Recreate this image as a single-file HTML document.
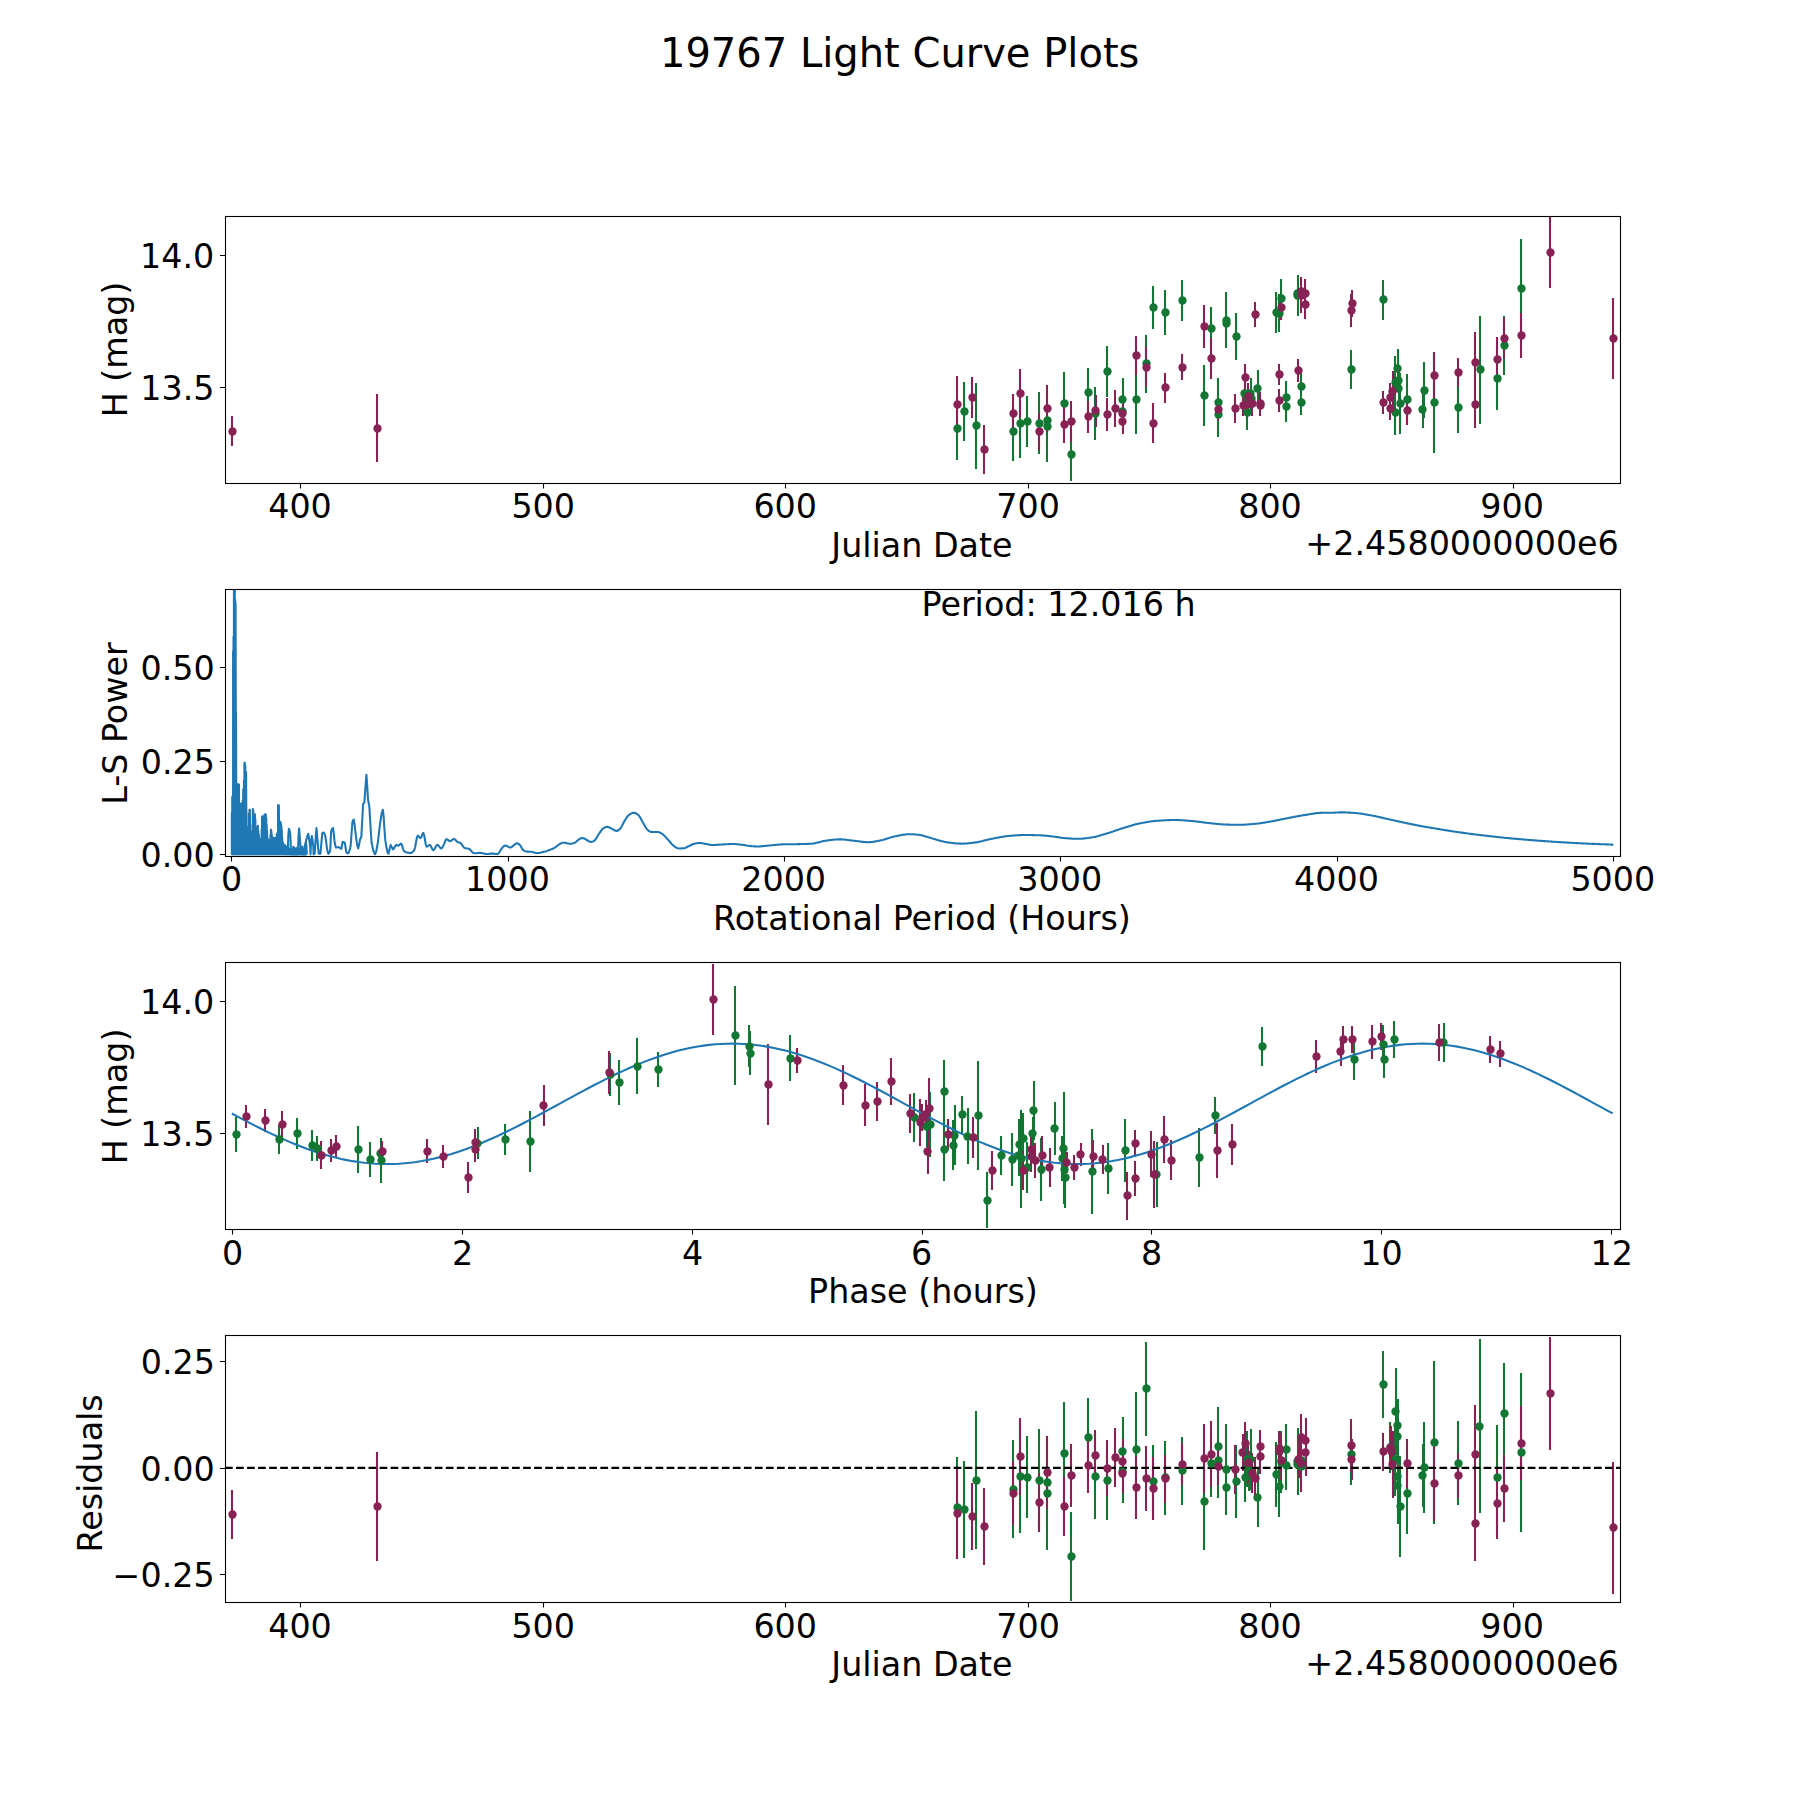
<!DOCTYPE html>
<html lang="en"><head><meta charset="utf-8"><title>19767 Light Curve Plots</title>
<style>html,body{margin:0;padding:0;background:#fff}body{width:1800px;height:1800px;overflow:hidden}svg{display:block}</style>
</head><body>
<svg xmlns="http://www.w3.org/2000/svg" width="1800" height="1800" viewBox="0 0 1800 1800">
<rect width="1800" height="1800" fill="#fff"/>
<defs>
<clipPath id="c0"><rect x="225" y="216" width="1395" height="266.54"/></clipPath>
<clipPath id="c1"><rect x="225" y="589.15" width="1395" height="266.54"/></clipPath>
<clipPath id="c2"><rect x="225" y="962.31" width="1395" height="266.54"/></clipPath>
<clipPath id="c3"><rect x="225" y="1335.46" width="1395" height="266.54"/></clipPath>
</defs>
<text x="899.7" y="67" text-anchor="middle" font-family='"DejaVu Sans", "Liberation Sans", sans-serif' font-size="40" fill="#000">19767 Light Curve Plots</text>
<g clip-path="url(#c0)">
<path d="M957 397V460M964 382V441M976 383V469M1013 403V461M1020 389V458M1027 396V447M1039 392V454M1047 393V448M1047 392V462M1064 372V435M1071 428V481M1088 368V417M1095 387V440M1107 346V397M1123 378V420M1123 391V431M1136 365V434M1146 335V393M1153 286V329M1165 290V335M1182 280V321M1204 365V426M1211 307V350M1218 378V427M1218 393V437M1226 292V348M1226 298V348M1236 313V360M1245 381V405M1251 378V408M1247 394V430M1251 387V411M1258 370V407M1276 292V333M1279 294V332M1281 279V318M1298 275V316M1298 276V310M1286 381V413M1286 391V422M1301 372V400M1301 390V415M1351 350V389M1383 280V320M1395 390V435M1395 356V410M1398 349V388M1399 365V395M1399 373V403M1400 373V434M1407 374V424M1424 362V418M1423 391V428M1434 353V453M1458 382V433M1480 316V424M1497 347V410M1504 316V375M1521 239V338" stroke="#117733" stroke-width="2.08" fill="none"/>
<path d="M232 416V446M377 394V462M957 376V433M972 377V418M984 425V474M1013 394V433M1020 369V418M1039 413V450M1047 385V432M1064 406V443M1071 401V442M1088 401V433M1096 395V427M1107 398V431M1115 390V427M1123 399V427M1123 409V434M1136 336V375M1146 347V387M1153 403V443M1165 373V403M1182 354V380M1204 305V348M1211 338V379M1218 398V421M1235 394V423M1245 364V391M1248 383V409M1243 395V416M1252 392V416M1248 394V414M1260 392V414M1260 395V416M1255 302V327M1281 295V320M1301 277V313M1301 278V304M1305 279V308M1305 290V319M1352 290V317M1351 294V327M1279 364V385M1279 389V412M1298 359V382M1383 391V414M1390 383V413M1393 371V411M1390 397V420M1407 396V425M1434 352V399M1458 358V387M1475 332V393M1475 381V428M1497 337V382M1504 318V359M1521 313V358M1550 217V288M1613 298V379" stroke="#882255" stroke-width="2.08" fill="none"/>
<g fill="#117733">
<circle cx="957.5" cy="428.5" r="4.17"/>
<circle cx="964.5" cy="411.5" r="4.17"/>
<circle cx="976.5" cy="425.5" r="4.17"/>
<circle cx="1013.5" cy="431.5" r="4.17"/>
<circle cx="1020.5" cy="423.5" r="4.17"/>
<circle cx="1027.5" cy="421.5" r="4.17"/>
<circle cx="1039.5" cy="423.5" r="4.17"/>
<circle cx="1047.5" cy="420.5" r="4.17"/>
<circle cx="1047.5" cy="426.5" r="4.17"/>
<circle cx="1064.5" cy="403.5" r="4.17"/>
<circle cx="1071.5" cy="454.5" r="4.17"/>
<circle cx="1088.5" cy="392.5" r="4.17"/>
<circle cx="1095.5" cy="413.5" r="4.17"/>
<circle cx="1107.5" cy="371.5" r="4.17"/>
<circle cx="1122.5" cy="399.5" r="4.17"/>
<circle cx="1122.5" cy="411.5" r="4.17"/>
<circle cx="1136.5" cy="399.5" r="4.17"/>
<circle cx="1146.5" cy="363.5" r="4.17"/>
<circle cx="1153.5" cy="307.5" r="4.17"/>
<circle cx="1165.5" cy="312.5" r="4.17"/>
<circle cx="1182.5" cy="300.5" r="4.17"/>
<circle cx="1204.5" cy="395.5" r="4.17"/>
<circle cx="1211.5" cy="328.5" r="4.17"/>
<circle cx="1218.5" cy="402.5" r="4.17"/>
<circle cx="1218.5" cy="414.5" r="4.17"/>
<circle cx="1226.5" cy="320.5" r="4.17"/>
<circle cx="1226.5" cy="323.5" r="4.17"/>
<circle cx="1236.5" cy="336.5" r="4.17"/>
<circle cx="1244.5" cy="393.5" r="4.17"/>
<circle cx="1250.5" cy="393.5" r="4.17"/>
<circle cx="1247.5" cy="412.5" r="4.17"/>
<circle cx="1251.5" cy="398.5" r="4.17"/>
<circle cx="1257.5" cy="388.5" r="4.17"/>
<circle cx="1276.5" cy="312.5" r="4.17"/>
<circle cx="1279.5" cy="313.5" r="4.17"/>
<circle cx="1281.5" cy="298.5" r="4.17"/>
<circle cx="1297.5" cy="295.5" r="4.17"/>
<circle cx="1297.5" cy="293.5" r="4.17"/>
<circle cx="1286.5" cy="397.5" r="4.17"/>
<circle cx="1286.5" cy="406.5" r="4.17"/>
<circle cx="1301.5" cy="386.5" r="4.17"/>
<circle cx="1301.5" cy="402.5" r="4.17"/>
<circle cx="1351.5" cy="369.5" r="4.17"/>
<circle cx="1383.5" cy="299.5" r="4.17"/>
<circle cx="1395.5" cy="412.5" r="4.17"/>
<circle cx="1395.5" cy="382.5" r="4.17"/>
<circle cx="1397.5" cy="368.5" r="4.17"/>
<circle cx="1398.5" cy="380.5" r="4.17"/>
<circle cx="1398.5" cy="388.5" r="4.17"/>
<circle cx="1400.5" cy="403.5" r="4.17"/>
<circle cx="1407.5" cy="399.5" r="4.17"/>
<circle cx="1424.5" cy="390.5" r="4.17"/>
<circle cx="1422.5" cy="409.5" r="4.17"/>
<circle cx="1434.5" cy="402.5" r="4.17"/>
<circle cx="1458.5" cy="407.5" r="4.17"/>
<circle cx="1480.5" cy="369.5" r="4.17"/>
<circle cx="1497.5" cy="378.5" r="4.17"/>
<circle cx="1504.5" cy="345.5" r="4.17"/>
<circle cx="1521.5" cy="288.5" r="4.17"/>
</g>
<g fill="#882255">
<circle cx="232.5" cy="431.5" r="4.17"/>
<circle cx="377.5" cy="428.5" r="4.17"/>
<circle cx="957.5" cy="404.5" r="4.17"/>
<circle cx="972.5" cy="397.5" r="4.17"/>
<circle cx="984.5" cy="449.5" r="4.17"/>
<circle cx="1013.5" cy="413.5" r="4.17"/>
<circle cx="1020.5" cy="393.5" r="4.17"/>
<circle cx="1039.5" cy="431.5" r="4.17"/>
<circle cx="1047.5" cy="408.5" r="4.17"/>
<circle cx="1064.5" cy="424.5" r="4.17"/>
<circle cx="1071.5" cy="421.5" r="4.17"/>
<circle cx="1088.5" cy="416.5" r="4.17"/>
<circle cx="1095.5" cy="410.5" r="4.17"/>
<circle cx="1107.5" cy="414.5" r="4.17"/>
<circle cx="1115.5" cy="408.5" r="4.17"/>
<circle cx="1122.5" cy="413.5" r="4.17"/>
<circle cx="1122.5" cy="421.5" r="4.17"/>
<circle cx="1136.5" cy="355.5" r="4.17"/>
<circle cx="1146.5" cy="367.5" r="4.17"/>
<circle cx="1153.5" cy="423.5" r="4.17"/>
<circle cx="1165.5" cy="387.5" r="4.17"/>
<circle cx="1182.5" cy="367.5" r="4.17"/>
<circle cx="1204.5" cy="326.5" r="4.17"/>
<circle cx="1211.5" cy="358.5" r="4.17"/>
<circle cx="1218.5" cy="409.5" r="4.17"/>
<circle cx="1235.5" cy="408.5" r="4.17"/>
<circle cx="1245.5" cy="377.5" r="4.17"/>
<circle cx="1248.5" cy="396.5" r="4.17"/>
<circle cx="1243.5" cy="405.5" r="4.17"/>
<circle cx="1252.5" cy="403.5" r="4.17"/>
<circle cx="1247.5" cy="404.5" r="4.17"/>
<circle cx="1260.5" cy="403.5" r="4.17"/>
<circle cx="1260.5" cy="405.5" r="4.17"/>
<circle cx="1255.5" cy="314.5" r="4.17"/>
<circle cx="1281.5" cy="307.5" r="4.17"/>
<circle cx="1301.5" cy="295.5" r="4.17"/>
<circle cx="1301.5" cy="291.5" r="4.17"/>
<circle cx="1305.5" cy="293.5" r="4.17"/>
<circle cx="1305.5" cy="304.5" r="4.17"/>
<circle cx="1352.5" cy="303.5" r="4.17"/>
<circle cx="1351.5" cy="310.5" r="4.17"/>
<circle cx="1279.5" cy="374.5" r="4.17"/>
<circle cx="1279.5" cy="400.5" r="4.17"/>
<circle cx="1298.5" cy="370.5" r="4.17"/>
<circle cx="1383.5" cy="402.5" r="4.17"/>
<circle cx="1390.5" cy="397.5" r="4.17"/>
<circle cx="1392.5" cy="391.5" r="4.17"/>
<circle cx="1390.5" cy="408.5" r="4.17"/>
<circle cx="1407.5" cy="410.5" r="4.17"/>
<circle cx="1434.5" cy="375.5" r="4.17"/>
<circle cx="1458.5" cy="372.5" r="4.17"/>
<circle cx="1475.5" cy="362.5" r="4.17"/>
<circle cx="1475.5" cy="404.5" r="4.17"/>
<circle cx="1497.5" cy="359.5" r="4.17"/>
<circle cx="1504.5" cy="338.5" r="4.17"/>
<circle cx="1521.5" cy="335.5" r="4.17"/>
<circle cx="1550.5" cy="252.5" r="4.17"/>
<circle cx="1613.5" cy="338.5" r="4.17"/>
</g>
</g>
<rect x="225.5" y="216.5" width="1395" height="267" fill="none" stroke="#000" stroke-width="1.1"/>
<path d="M300.5 483v5.4M543.5 483v5.4M785.5 483v5.4M1028.5 483v5.4M1270.5 483v5.4M1513.5 483v5.4M225.5 387.5h-5.5M225.5 255.5h-5.5" stroke="#000" stroke-width="1.1" fill="none"/>
<g font-family='"DejaVu Sans", "Liberation Sans", sans-serif' font-size="33.33" fill="#000">
<text x="300.02" y="518" text-anchor="middle">400</text>
<text x="543.21" y="518" text-anchor="middle">500</text>
<text x="785.21" y="518" text-anchor="middle">600</text>
<text x="1028.09" y="518" text-anchor="middle">700</text>
<text x="1269.99" y="518" text-anchor="middle">800</text>
<text x="1512.13" y="518" text-anchor="middle">900</text>
<text x="214.47" y="400" text-anchor="end">13.5</text>
<text x="214.22" y="268" text-anchor="end">14.0</text>
</g>
<text x="921.99" y="557" text-anchor="middle" font-family='"DejaVu Sans", "Liberation Sans", sans-serif' font-size="33.33" fill="#000">Julian Date</text>
<text x="1618.82" y="555" text-anchor="end" font-family='"DejaVu Sans", "Liberation Sans", sans-serif' font-size="33.33" fill="#000">+2.4580000000e6</text>
<text x="126.76" y="349.47" text-anchor="middle" font-family='"DejaVu Sans", "Liberation Sans", sans-serif' font-size="33.33" fill="#000" transform="rotate(-90 126.76 349.47)">H (mag)</text>
<g clip-path="url(#c1)">
<path d="M287 854.4 287.45 848.89 287.9 854.4 288.35 851.48 288.8 854.4 289.25 848.83 289.7 854.4 290.15 851.67 290.6 854.4 291.05 849.95 291.5 854.4 291.95 850.45 292.4 854.4 292.85 851.06 293.3 854.4 293.75 850.07 294.2 854.4 294.65 849.19 295.1 854.4 295.55 848.75 296 854.4 296.45 848.32 296.9 854.4 297.35 850.95 297.8 854.4 298.25 849.77 298.7 854.4 299.15 848.63 299.6 854.4 300.05 851.52 300.5 854.4 300.95 849.1 301.4 854.4 301.85 849.66 302.3 854.4 302.75 849.18 303.2 854.4 303.65 850.52 304.1 854.4 304.55 846 305 854.4 305.45 844.42 305.9 854.4 306.35 844.64 306.8 854.4" stroke="#1f77b4" stroke-width="2.08" fill="none" stroke-linejoin="round" stroke-linecap="butt"/>
<path d="M231.4 854.4 231.4 854.4 231.82 854.4 231.82 813 232.24 854.4 232.24 796.85 232.66 854.4 232.66 796.66 233.08 854.4 233.08 651.37 233.5 854.4 233.5 637 233.92 854.4 233.92 587 234.34 854.4 234.34 587 234.76 854.4 234.76 587 235.18 854.4 235.18 599.8 235.6 854.4 235.6 603 236.02 854.4 236.02 711.96 236.44 854.4 236.44 784.6 236.86 854.4 236.86 784.6 237.28 854.4 237.28 784.6 237.7 854.4 237.7 784.6 238.12 854.4 238.12 784.6 238.54 854.4 238.54 784.6 238.96 854.4 238.96 784.6 239.38 854.4 239.38 804 239.8 854.4 239.8 804 240.22 854.4 240.22 804 240.64 854.4 240.64 804 241.06 854.4 241.06 804 241.48 854.4 241.48 803.6 241.9 854.4 241.9 803 242.32 854.4 242.32 803 242.74 854.4 242.74 800.24 243.16 854.4 243.16 789.2 243.58 854.4 243.58 789.2 244 854.4 244 780.4 244.42 854.4 244.42 762.8 244.84 854.4 244.84 762.8 245.26 854.4 245.26 765.56 245.68 854.4 245.68 772 246.1 854.4 246.1 772 246.52 854.4 246.52 812.33 246.94 854.4 246.94 827 247.36 854.4 247.36 827 247.78 854.4 247.78 827 248.2 854.4 248.2 827 248.62 854.4 248.62 827 249.04 854.4 249.04 813.24 249.46 854.4 249.46 809.8 249.88 854.4 249.88 809.8 250.3 854.4 250.3 824.6 250.72 854.4 250.72 832 251.14 854.4 251.14 832 251.56 854.4 251.56 832 251.98 854.4 251.98 832 252.4 854.4 252.4 832 252.82 854.4 252.82 809 253.24 854.4 253.24 810.06 253.66 854.4 253.66 814.3 254.08 854.4 254.08 814.3 254.5 854.4 254.5 814.3 254.92 854.4 254.92 814.3 255.34 854.4 255.34 818.99 255.76 854.4 255.76 827.7 256.18 854.4 256.18 827.7 256.6 854.4 256.6 827.7 257.02 854.4 257.02 827.7 257.44 854.4 257.44 827.7 257.86 854.4 257.86 825.67 258.28 854.4 258.28 830.83 258.7 854.4 258.7 834.01 259.12 854.4 259.12 836.4 259.54 854.4 259.54 838.79 259.96 854.4 259.96 839.7 260.38 854.4 260.38 839.7 260.8 854.4 260.8 839.7 261.22 854.4 261.22 839.7 261.64 854.4 261.64 828.87 262.06 854.4 262.06 816.5 262.48 854.4 262.48 816.5 262.9 854.4 262.9 816.5 263.32 854.4 263.32 816.5 263.74 854.4 263.74 816.5 264.16 854.4 264.16 816.1 264.58 854.4 264.58 814.5 265 854.4 265 814.5 265.42 854.4 265.42 814.5 265.84 854.4 265.84 814.5 266.26 854.4 266.26 818.51 266.68 854.4 266.68 824.99 267.1 854.4 267.1 831.3 267.52 854.4 267.52 837.6 267.94 854.4 267.94 840.3 268.36 854.4 268.36 840.3 268.78 854.4 268.78 840.3 269.2 854.4 269.2 840.3 269.62 854.4 269.62 840.3 270.04 854.4 270.04 840.3 270.46 854.4 270.46 835.35 270.88 854.4 270.88 829.58 271.3 854.4 271.3 830.84 271.72 854.4 271.72 834.07 272.14 854.4 272.14 837.03 272.56 854.4 272.56 837.3 272.98 854.4 272.98 837.57 273.4 854.4 273.4 837.84 273.82 854.4 273.82 838.12 274.24 854.4 274.24 838.3 274.66 854.4 274.66 838.3 275.08 854.4 275.08 838.3 275.5 854.4 275.5 838.3 275.92 854.4 275.92 838.3 276.34 854.4 276.34 837.3 276.76 854.4 276.76 834.3 277.18 854.4 277.18 833.3 277.6 854.4 277.6 833.3 278.02 854.4 278.02 805.2 278.44 854.4 278.44 805.2 278.86 854.4 278.86 805.2 279.28 854.4 279.28 820.88 279.7 854.4 279.7 822 280.12 854.4 280.12 822 280.54 854.4 280.54 822 280.96 854.4 280.96 823.64 281.38 854.4 281.38 826.28 281.8 854.4 281.8 830.11 282.22 854.4 282.22 837.73 282.64 854.4 282.64 841.72 283.06 854.4 283.06 842.98 283.48 854.4 283.48 844.07 283.9 854.4 283.9 844.43 284.32 854.4 284.32 844.78 284.74 854.4 284.74 845.14 285.16 854.4 285.16 845.5 285.58 854.4 285.58 845.86 286 854.4 286 846.21 286.42 854.4 286.42 847.97 286.84 854.4 286.84 850.16 287.26 854.4 287.26 851 287.68 854.4 287.56 851.11 287.86 854.4 288.22 837.22 288.89 828.89 289.56 830.16 290.22 833.33 290.67 842.86 290.97 854.4 291.11 851.11 291.41 854.4 292.22 848.89 292.52 854.4 293.33 846.67 293.63 854.4 294.37 847.82 294.67 854.4 295.41 849.96 295.71 854.4 296.44 851.11 296.74 854.4 297.11 849.78 297.41 854.4 297.78 846.67 298.08 854.4 298.44 836.66 299.11 828.44 300 839.78 300.89 851.11 301.19 854.4 301.56 848.89 301.86 854.4 302.22 846.67 302.52 854.4 302.89 849.78 303.19 854.4 303.56 852.89 303.86 854.4 304.44 848.92 304.74 854.4 305.33 843.11 305.63 854.4 306 840.73 306.67 838.67 307.47 835.58 308.27 833.78 309.24 840.22 310.22 846.67 310.52 854.4 311.02 841.33 311.82 836 312.58 840.19 313.33 846.67 313.63 854.4 314 851.23 314.67 853.78 315.56 840.89 316.44 828 317.56 840.89 318.67 853.78 319.56 853.78 320.44 853.78 321.33 843.84 322.22 833.33 322.89 832.68 323.56 832.44 324.44 833.52 325.33 836 326.22 842.34 327.11 849.33 327.78 852.32 328.44 853.78 329.33 852.81 330.22 850.22 330.67 840.85 331.11 831.56 332.09 828.96 333.07 828 333.73 833.22 334.4 840.44 335.2 845.2 336 847.56 336.89 847.44 337.78 847.23 338.67 847.11 339.56 847.57 340.44 848.43 341.33 848.89 342 845.33 342.67 841.78 343.78 842.14 344.89 843.11 345.56 847.51 346.22 852 347.11 852.97 348 853.33 348.89 852.3 349.78 849.59 350.67 845.78 351.56 833.4 352.44 821.78 353.11 820.17 353.78 819.56 354.67 824.99 355.56 833.33 356.44 839.84 357.33 845.82 358.22 848.44 359.11 844.63 360 839.56 360.67 838.35 361.33 836.89 362.22 820.2 363.11 804 363.78 803.1 364.44 802.22 365.42 787.85 366.4 774.67 367.2 785.52 368 799.56 368.67 803.1 369.33 806.67 370.44 825.12 371.56 842.22 372.44 846.88 373.33 850.7 374.22 853.28 375.11 854.22 376.22 851.43 377.33 845.78 378.22 839.45 379.11 831.43 380 824.44 380.95 818 381.9 812.26 382.84 809.78 383.67 816.56 384.5 830.15 385.33 840.44 386.37 846.83 387.41 851.79 388.44 853.78 389.56 849.33 390.67 844.89 391.78 847.11 392.89 849.33 393.78 848.64 394.67 847.11 395.56 845.58 396.44 844.89 397.33 845.33 398.22 845.78 399.17 845.2 400.12 844.13 401.07 843.56 402.04 845.35 403.02 848.83 404 851.11 405.04 851.75 406.07 852.18 407.11 852.44 408 852.61 408.89 852.75 409.78 852.85 410.67 852.89 411.56 852.68 412.44 852.12 413.33 851.27 414.22 850.22 415.11 847.3 416 842.32 416.89 837.64 417.78 835.56 418.67 836.25 419.56 837.53 420.44 838.22 421.39 836.84 422.34 834.27 423.29 832.89 424.13 835.04 424.98 839.78 425.82 844.51 426.67 846.67 427.7 846.21 428.74 845.35 429.78 844.89 430.67 845.72 431.56 847.56 432.44 849.39 433.33 850.22 434.13 849.67 434.93 848.34 435.73 846.77 436.53 845.44 437.33 844.89 438.14 845.26 438.95 846.14 439.76 847.19 440.57 848.07 441.38 848.44 442.36 847.52 443.33 845.78 444.37 843.28 445.41 840.46 446.44 839.11 447.33 839.43 448.22 840.13 449.11 840.84 450 841.16 450.8 840.92 451.6 840.37 452.4 839.72 453.2 839.16 454 838.93 454.89 839.33 455.78 840.23 456.67 841.24 457.56 841.96 458.44 842.27 459.33 842.5 460.22 842.84 461.11 843.63 462 844.86 462.89 846.21 463.78 847.36 464.67 848 465.47 848.19 466.27 848.32 467.07 848.41 467.87 848.53 468.67 848.71 469.49 849.14 470.32 849.87 471.14 850.77 471.97 851.69 472.79 852.51 473.62 853.11 474.44 853.33 475.27 853.31 476.1 853.25 476.92 853.16 477.75 853.06 478.57 852.98 479.4 852.91 480.22 852.89 481.06 852.94 481.89 853.07 482.72 853.25 483.56 853.47 484.39 853.68 485.22 853.86 486.06 853.99 486.89 854.04 487.78 854.01 488.67 853.93 489.56 853.82 490.44 853.72 491.33 853.63 492.22 853.6 493.11 853.63 494 853.72 494.89 853.82 495.78 853.93 496.67 854.01 497.56 854.04 498.44 853.52 499.33 852.24 500.22 850.69 501.11 849.33 502 848.15 502.89 847.02 503.78 846.22 504.67 845.73 505.56 845.51 506.37 845.66 507.19 846.04 508 846.53 508.81 847.03 509.63 847.4 510.44 847.56 511.48 847.13 512.52 846.2 513.56 845.33 514.44 844.7 515.33 844.03 516.22 843.5 517.11 843.29 518 843.53 518.89 844.14 519.78 844.89 520.67 846.04 521.56 847.64 522.44 849.2 523.33 850.22 524.37 850.85 525.41 851.32 526.44 851.56 527.26 851.62 528.07 851.66 528.89 851.7 529.7 851.73 530.52 851.76 531.33 851.82 532.22 851.95 533.11 852.15 534 852.39 534.89 852.63 535.78 852.85 536.67 853.01 537.56 853.07 538.44 853.03 539.33 852.91 540.22 852.74 541.11 852.53 542 852.3 542.89 852.06 543.78 851.82 544.59 851.61 545.39 851.38 546.2 851.14 547.01 850.88 547.82 850.61 548.63 850.32 549.43 850.03 550.24 849.71 551.05 849.39 551.86 849.06 552.67 848.71 553.56 848.28 554.44 847.78 555.33 847.24 556.22 846.67 557.11 846.01 558 845.27 558.89 844.56 559.78 844 560.67 843.54 561.56 843.11 562.44 842.79 563.33 842.67 564.22 842.71 565.11 842.83 566 843 566.89 843.2 567.78 843.4 568.67 843.57 569.56 843.69 570.44 843.73 571.33 843.68 572.22 843.55 573.11 843.35 574 843.11 574.89 842.67 575.78 841.95 576.67 841.15 577.56 840.44 578.44 839.78 579.33 839.08 580.22 838.52 581.11 838.22 581.94 838.14 582.78 838.11 583.72 838.29 584.67 838.67 585.67 839.31 586.67 840 587.56 840.49 588.44 841 589.33 841.45 590.22 841.77 591.11 841.89 591.94 841.78 592.78 841.49 593.61 841.06 594.44 840.56 595.33 839.7 596.22 838.39 597.11 836.84 598 835.27 598.89 833.89 599.78 832.62 600.67 831.3 601.56 830.07 602.44 829.04 603.33 828.33 604.31 827.79 605.28 827.33 606.25 827.01 607.22 826.89 608.11 827.01 609 827.34 609.89 827.77 610.78 828.24 611.67 828.67 612.5 829.07 613.33 829.55 614.17 830.04 615 830.47 615.83 830.77 616.67 830.89 617.5 830.72 618.33 830.26 619.17 829.62 620 828.89 620.89 827.79 621.78 826.24 622.67 824.45 623.56 822.67 624.44 821.11 625.33 819.7 626.22 818.26 627.11 816.92 628 815.8 628.89 815 629.72 814.45 630.56 813.93 631.39 813.47 632.22 813.11 633.06 812.86 633.89 812.78 634.78 812.9 635.67 813.23 636.56 813.73 637.44 814.33 638.33 815 639.22 815.96 640.11 817.34 641 818.97 641.89 820.66 642.78 822.22 643.67 823.77 644.56 825.42 645.44 827.02 646.33 828.41 647.22 829.44 648.19 830.32 649.17 831.09 650.14 831.65 651.11 831.89 651.94 831.91 652.78 831.93 653.61 831.94 654.44 831.94 655.28 831.95 656.11 831.96 656.94 831.98 657.78 832 658.67 832.13 659.56 832.43 660.44 832.86 661.33 833.36 662.22 833.89 663.15 834.55 664.07 835.4 665 836.37 665.93 837.41 666.85 838.45 667.78 839.44 668.61 840.34 669.44 841.3 670.28 842.29 671.11 843.27 671.94 844.21 672.78 845.08 673.61 845.84 674.44 846.44 675.33 847.01 676.22 847.55 677.11 848.01 678 848.33 678.89 848.44 679.78 848.44 680.67 848.43 681.56 848.4 682.44 848.37 683.33 848.33 684.26 848.19 685.19 847.89 686.11 847.48 687.04 847.01 687.96 846.54 688.89 846.11 689.81 845.69 690.74 845.22 691.67 844.74 692.59 844.3 693.52 843.93 694.44 843.67 695.28 843.5 696.11 843.34 696.94 843.21 697.78 843.1 698.61 843.03 699.44 843 700.32 843.03 701.19 843.12 702.06 843.25 702.94 843.41 703.81 843.57 704.68 843.74 705.56 843.89 706.39 844.04 707.22 844.21 708.06 844.39 708.89 844.57 709.72 844.74 710.56 844.87 711.39 844.97 712.22 845 713.06 844.99 713.89 844.97 714.72 844.93 715.56 844.89 716.39 844.84 717.22 844.78 718.06 844.72 718.89 844.66 719.72 844.6 720.56 844.54 721.39 844.49 722.22 844.44 723.08 844.4 723.93 844.36 724.79 844.31 725.64 844.27 726.5 844.22 727.35 844.18 728.21 844.14 729.06 844.1 729.91 844.07 730.77 844.04 731.62 844.02 732.48 844 733.33 844 734.2 844.01 735.06 844.05 735.93 844.11 736.79 844.19 737.65 844.27 738.52 844.37 739.38 844.47 740.25 844.57 741.11 844.67 741.94 844.77 742.78 844.88 743.61 845.01 744.44 845.15 745.28 845.29 746.11 845.43 746.94 845.57 747.78 845.71 748.61 845.83 749.44 845.94 750.28 846.04 751.11 846.11 751.94 846.17 752.78 846.23 753.61 846.29 754.44 846.34 755.28 846.38 756.11 846.42 756.94 846.44 757.78 846.44 758.63 846.43 759.49 846.41 760.34 846.36 761.2 846.3 762.05 846.23 762.91 846.16 763.76 846.07 764.62 845.98 765.47 845.89 766.32 845.8 767.18 845.71 768.03 845.63 768.89 845.56 769.69 845.49 770.49 845.41 771.3 845.33 772.1 845.25 772.9 845.17 773.7 845.09 774.51 845 775.31 844.92 776.11 844.84 776.91 844.76 777.72 844.68 778.52 844.61 779.32 844.54 780.12 844.48 780.93 844.43 781.73 844.39 782.53 844.36 783.33 844.33 784.17 844.32 785 844.3 785.83 844.29 786.67 844.28 787.5 844.27 788.33 844.26 789.17 844.25 790 844.24 790.83 844.24 791.67 844.23 792.5 844.22 793.33 844.21 794.17 844.2 795 844.19 795.83 844.18 796.67 844.17 797.5 844.15 798.33 844.14 799.17 844.12 800 844.1 800.83 844.08 801.67 844.06 802.5 844.04 803.33 844.02 804.17 843.99 805 843.96 805.83 843.94 806.67 843.9 807.5 843.87 808.33 843.84 809.17 843.8 810 843.76 810.83 843.71 811.67 843.67 812.5 843.6 813.33 843.5 814.17 843.36 815 843.2 815.83 843.02 816.67 842.82 817.5 842.6 818.33 842.38 819.17 842.15 820 841.93 820.83 841.71 821.67 841.5 822.5 841.3 823.33 841.12 824.17 840.96 825 840.83 825.83 840.72 826.67 840.6 827.5 840.49 828.33 840.37 829.17 840.25 830 840.14 830.83 840.03 831.67 839.93 832.5 839.83 833.33 839.73 834.17 839.65 835 839.57 835.83 839.5 836.67 839.44 837.5 839.4 838.33 839.36 839.17 839.34 840 839.33 840.83 839.34 841.67 839.37 842.5 839.42 843.33 839.48 844.17 839.55 845 839.64 845.83 839.73 846.67 839.83 847.5 839.94 848.33 840.05 849.17 840.16 850 840.27 850.83 840.38 851.67 840.48 852.5 840.58 853.33 840.67 854.17 840.75 855 840.85 855.83 840.95 856.67 841.06 857.5 841.17 858.33 841.28 859.17 841.39 860 841.5 860.83 841.6 861.67 841.71 862.5 841.8 863.33 841.89 864.17 841.97 865 842.03 865.83 842.09 866.67 842.13 867.5 842.16 868.33 842.17 869.17 842.15 870 842.11 870.83 842.05 871.67 841.96 872.5 841.86 873.33 841.74 874.17 841.61 875 841.46 875.83 841.31 876.67 841.15 877.5 840.99 878.33 840.82 879.17 840.66 880 840.5 880.83 840.33 881.67 840.14 882.5 839.93 883.33 839.7 884.17 839.46 885 839.21 885.83 838.95 886.67 838.69 887.5 838.42 888.33 838.15 889.17 837.89 890 837.63 890.83 837.37 891.67 837.13 892.5 836.91 893.33 836.7 894.17 836.5 895 836.33 895.83 836.17 896.67 836.01 897.5 835.84 898.33 835.68 899.17 835.51 900 835.35 900.83 835.19 901.67 835.04 902.5 834.89 903.33 834.76 904.17 834.63 905 834.52 905.83 834.42 906.67 834.33 907.5 834.26 908.33 834.21 909.17 834.18 910 834.17 910.83 834.17 911.67 834.2 912.5 834.24 913.33 834.29 914.17 834.35 915 834.42 915.83 834.5 916.67 834.59 917.5 834.69 918.33 834.79 919.17 834.89 920 835 920.83 835.12 921.67 835.28 922.5 835.47 923.33 835.68 924.17 835.91 925 836.16 925.83 836.42 926.67 836.69 927.5 836.97 928.33 837.26 929.17 837.54 930 837.82 930.83 838.09 931.67 838.36 932.5 838.6 933.33 838.83 934.17 839.06 935 839.29 935.83 839.52 936.67 839.75 937.5 839.99 938.33 840.23 939.17 840.46 940 840.69 940.83 840.92 941.67 841.14 942.5 841.35 943.33 841.56 944.17 841.75 945 841.93 945.83 842.1 946.67 842.25 947.5 842.38 948.33 842.5 949.17 842.61 950 842.71 950.83 842.82 951.67 842.92 952.5 843.02 953.33 843.12 954.17 843.21 955 843.3 955.83 843.38 956.67 843.45 957.5 843.51 958.33 843.56 959.17 843.61 960 843.64 960.83 843.66 961.67 843.67 962.5 843.66 963.33 843.64 964.17 843.61 965 843.56 965.83 843.51 966.67 843.44 967.5 843.37 968.33 843.29 969.17 843.21 970 843.11 970.83 843.02 971.67 842.92 972.5 842.81 973.33 842.71 974.17 842.6 975 842.5 975.83 842.39 976.67 842.26 977.5 842.11 978.33 841.95 979.17 841.78 980 841.6 980.83 841.41 981.67 841.22 982.5 841.01 983.33 840.81 984.17 840.6 985 840.38 985.83 840.17 986.67 839.96 987.5 839.76 988.33 839.56 989.17 839.36 990 839.18 990.83 839 991.67 838.83 992.5 838.67 993.33 838.51 994.17 838.34 995 838.18 995.83 838.01 996.67 837.84 997.5 837.68 998.33 837.52 999.17 837.36 1000 837.2 1000.83 837.05 1001.67 836.9 1002.5 836.76 1003.33 836.63 1004.17 836.5 1005 836.38 1005.83 836.27 1006.67 836.17 1007.5 836.08 1008.33 836 1009.17 835.93 1010 835.85 1010.83 835.78 1011.67 835.71 1012.5 835.64 1013.33 835.57 1014.17 835.5 1015 835.44 1015.83 835.37 1016.67 835.32 1017.5 835.26 1018.33 835.21 1019.17 835.16 1020 835.12 1020.83 835.09 1021.67 835.06 1022.5 835.03 1023.33 835.01 1024.17 835 1025 835 1025.83 835 1026.67 835.01 1027.5 835.01 1028.33 835.02 1029.17 835.03 1030 835.05 1030.83 835.06 1031.67 835.08 1032.5 835.1 1033.33 835.12 1034.17 835.14 1035 835.17 1035.83 835.19 1036.67 835.22 1037.5 835.25 1038.33 835.27 1039.17 835.3 1040 835.33 1040.83 835.37 1041.67 835.41 1042.5 835.46 1043.33 835.52 1044.17 835.59 1045 835.66 1045.83 835.73 1046.67 835.82 1047.5 835.9 1048.33 835.99 1049.17 836.09 1050 836.18 1050.83 836.28 1051.67 836.38 1052.5 836.49 1053.33 836.59 1054.17 836.69 1055 836.8 1055.83 836.9 1056.67 837 1057.5 837.11 1058.33 837.24 1059.17 837.39 1060 837.53 1060.83 837.67 1061.67 837.81 1062.5 837.92 1063.33 838 1064.17 838.07 1065 838.14 1065.83 838.2 1066.67 838.27 1067.5 838.33 1068.33 838.4 1069.17 838.46 1070 838.51 1070.83 838.57 1071.67 838.62 1072.5 838.67 1073.33 838.71 1074.17 838.74 1075 838.77 1075.83 838.8 1076.67 838.82 1077.5 838.83 1078.33 838.83 1079.17 838.83 1080 838.8 1080.83 838.76 1081.67 838.71 1082.5 838.65 1083.33 838.58 1084.17 838.49 1085 838.4 1085.83 838.3 1086.67 838.19 1087.5 838.07 1088.33 837.95 1089.17 837.83 1090 837.7 1090.83 837.57 1091.67 837.43 1092.5 837.3 1093.33 837.17 1094.17 837.02 1095 836.86 1095.83 836.69 1096.67 836.49 1097.5 836.29 1098.33 836.07 1099.17 835.84 1100 835.6 1100.83 835.35 1101.67 835.1 1102.5 834.84 1103.33 834.57 1104.17 834.31 1105 834.04 1105.83 833.78 1106.67 833.51 1107.5 833.25 1108.33 833 1109.17 832.75 1110 832.48 1110.83 832.22 1111.67 831.94 1112.5 831.67 1113.33 831.38 1114.17 831.1 1115 830.82 1115.83 830.53 1116.67 830.24 1117.5 829.95 1118.33 829.67 1119.17 829.38 1120 829.1 1120.83 828.82 1121.67 828.54 1122.5 828.27 1123.33 828.01 1124.17 827.75 1125 827.5 1125.83 827.25 1126.67 827 1127.5 826.75 1128.33 826.5 1129.17 826.24 1130 825.99 1130.83 825.74 1131.67 825.5 1132.5 825.25 1133.33 825.02 1134.17 824.78 1135 824.55 1135.83 824.33 1136.67 824.11 1137.5 823.9 1138.33 823.7 1139.17 823.51 1140 823.33 1140.83 823.16 1141.67 823 1142.5 822.85 1143.33 822.7 1144.17 822.55 1145 822.4 1145.83 822.25 1146.67 822.11 1147.5 821.97 1148.33 821.84 1149.17 821.7 1150 821.58 1150.83 821.46 1151.67 821.34 1152.5 821.23 1153.33 821.13 1154.17 821.03 1155 820.94 1155.83 820.86 1156.67 820.79 1157.5 820.72 1158.33 820.67 1159.17 820.62 1160 820.56 1160.83 820.51 1161.67 820.46 1162.5 820.42 1163.33 820.37 1164.17 820.33 1165 820.28 1165.83 820.24 1166.67 820.2 1167.5 820.17 1168.33 820.14 1169.17 820.11 1170 820.08 1170.83 820.06 1171.67 820.04 1172.5 820.02 1173.33 820.01 1174.17 820 1175 820 1175.83 820 1176.67 820.02 1177.5 820.04 1178.33 820.06 1179.17 820.09 1180 820.13 1180.83 820.18 1181.67 820.22 1182.5 820.28 1183.33 820.33 1184.17 820.39 1185 820.46 1185.83 820.52 1186.67 820.59 1187.5 820.66 1188.33 820.73 1189.17 820.79 1190 820.86 1190.83 820.93 1191.67 821 1192.5 821.07 1193.33 821.15 1194.17 821.23 1195 821.32 1195.83 821.42 1196.67 821.52 1197.5 821.62 1198.33 821.73 1199.17 821.84 1200 821.95 1200.83 822.06 1201.67 822.18 1202.5 822.29 1203.33 822.4 1204.17 822.51 1205 822.62 1205.83 822.72 1206.67 822.82 1207.5 822.91 1208.33 823 1209.17 823.09 1210 823.17 1210.83 823.26 1211.67 823.35 1212.5 823.44 1213.33 823.53 1214.17 823.62 1215 823.71 1215.83 823.8 1216.67 823.88 1217.5 823.96 1218.33 824.04 1219.17 824.12 1220 824.19 1220.83 824.25 1221.67 824.32 1222.5 824.37 1223.33 824.42 1224.17 824.46 1225 824.5 1225.83 824.53 1226.67 824.56 1227.5 824.6 1228.33 824.63 1229.17 824.65 1230 824.68 1230.83 824.71 1231.67 824.73 1232.5 824.75 1233.33 824.77 1234.17 824.79 1235 824.81 1235.83 824.82 1236.67 824.83 1237.5 824.83 1238.33 824.83 1239.17 824.83 1240 824.82 1240.83 824.8 1241.67 824.78 1242.5 824.74 1243.33 824.71 1244.17 824.67 1245 824.62 1245.83 824.57 1246.67 824.51 1247.5 824.45 1248.33 824.39 1249.17 824.33 1250 824.26 1250.83 824.19 1251.67 824.12 1252.5 824.05 1253.33 823.98 1254.17 823.91 1255 823.83 1255.83 823.76 1256.67 823.67 1257.5 823.58 1258.33 823.48 1259.17 823.38 1260 823.26 1260.83 823.15 1261.67 823.02 1262.5 822.89 1263.33 822.76 1264.17 822.63 1265 822.49 1265.83 822.35 1266.67 822.2 1267.5 822.06 1268.33 821.91 1269.17 821.77 1270 821.62 1270.83 821.48 1271.67 821.33 1272.5 821.19 1273.33 821.04 1274.17 820.88 1275 820.72 1275.83 820.56 1276.67 820.39 1277.5 820.22 1278.33 820.05 1279.17 819.88 1280 819.7 1280.83 819.53 1281.67 819.35 1282.5 819.18 1283.33 819 1284.17 818.83 1285 818.66 1285.83 818.49 1286.67 818.32 1287.5 818.16 1288.33 818 1289.17 817.84 1290 817.68 1290.83 817.52 1291.67 817.36 1292.5 817.21 1293.33 817.05 1294.17 816.89 1295 816.73 1295.83 816.57 1296.67 816.42 1297.5 816.27 1298.33 816.12 1299.17 815.97 1300 815.82 1300.83 815.67 1301.67 815.53 1302.5 815.39 1303.33 815.26 1304.17 815.13 1305 815 1305.83 814.87 1306.67 814.74 1307.5 814.6 1308.33 814.45 1309.17 814.31 1310 814.16 1310.83 814.02 1311.67 813.88 1312.5 813.74 1313.33 813.6 1314.17 813.47 1315 813.35 1315.83 813.24 1316.67 813.14 1317.5 813.05 1318.33 812.98 1319.17 812.92 1320 812.87 1320.83 812.84 1321.67 812.83 1322.5 812.83 1323.33 812.83 1324.17 812.83 1325 812.83 1325.83 812.83 1326.67 812.83 1327.5 812.83 1328.33 812.83 1329.17 812.83 1330 812.83 1330.83 812.83 1331.67 812.81 1332.5 812.77 1333.33 812.73 1334.17 812.69 1335 812.64 1335.83 812.58 1336.67 812.53 1337.5 812.48 1338.33 812.43 1339.17 812.39 1340 812.36 1340.83 812.34 1341.67 812.33 1342.5 812.34 1343.33 812.35 1344.17 812.37 1345 812.39 1345.83 812.42 1346.67 812.46 1347.5 812.5 1348.33 812.54 1349.17 812.59 1350 812.64 1350.83 812.7 1351.67 812.76 1352.5 812.81 1353.33 812.88 1354.17 812.94 1355 813 1355.83 813.07 1356.67 813.14 1357.5 813.23 1358.33 813.32 1359.17 813.43 1360 813.54 1360.83 813.65 1361.67 813.77 1362.5 813.9 1363.33 814.03 1364.17 814.17 1365 814.31 1365.83 814.46 1366.67 814.6 1367.5 814.75 1368.33 814.9 1369.17 815.05 1370 815.2 1370.83 815.35 1371.67 815.5 1372.5 815.65 1373.33 815.81 1374.17 815.97 1375 816.14 1375.83 816.32 1376.67 816.5 1377.5 816.68 1378.33 816.87 1379.17 817.06 1380 817.25 1380.83 817.44 1381.67 817.63 1382.5 817.83 1383.33 818.02 1384.17 818.22 1385 818.41 1385.83 818.6 1386.67 818.79 1387.5 818.98 1388.33 819.17 1389.17 819.35 1390 819.53 1390.83 819.72 1391.67 819.91 1392.5 820.09 1393.33 820.28 1394.17 820.46 1395 820.65 1395.83 820.84 1396.67 821.02 1397.5 821.21 1398.33 821.39 1399.17 821.58 1400 821.76 1400.83 821.94 1401.67 822.12 1402.5 822.3 1403.33 822.48 1404.17 822.66 1405 822.83 1405.83 823.01 1406.67 823.18 1407.5 823.36 1408.33 823.53 1409.17 823.7 1410 823.87 1410.83 824.04 1411.67 824.22 1412.5 824.39 1413.33 824.55 1414.17 824.72 1415 824.89 1415.83 825.05 1416.67 825.22 1417.5 825.38 1418.33 825.54 1419.17 825.7 1420 825.86 1420.83 826.01 1421.67 826.17 1422.5 826.32 1423.33 826.47 1424.17 826.62 1425 826.77 1425.83 826.91 1426.67 827.06 1427.5 827.2 1428.33 827.34 1429.17 827.48 1430 827.62 1430.83 827.76 1431.67 827.9 1432.5 828.04 1433.33 828.18 1434.17 828.31 1435 828.45 1435.83 828.59 1436.67 828.73 1437.5 828.86 1438.33 829 1439.17 829.14 1440 829.27 1440.83 829.41 1441.67 829.55 1442.5 829.69 1443.33 829.82 1444.17 829.96 1445 830.1 1445.83 830.23 1446.67 830.37 1447.5 830.5 1448.33 830.63 1449.17 830.77 1450 830.9 1450.83 831.03 1451.67 831.16 1452.5 831.29 1453.33 831.42 1454.17 831.54 1455 831.67 1455.83 831.79 1456.67 831.91 1457.5 832.04 1458.33 832.16 1459.17 832.28 1460 832.4 1460.83 832.52 1461.67 832.64 1462.5 832.76 1463.33 832.88 1464.17 832.99 1465 833.11 1465.83 833.22 1466.67 833.34 1467.5 833.45 1468.33 833.56 1469.17 833.67 1470 833.78 1470.83 833.89 1471.67 834 1472.5 834.11 1473.33 834.21 1474.17 834.32 1475 834.42 1475.83 834.53 1476.67 834.63 1477.5 834.73 1478.33 834.83 1479.17 834.93 1480 835.03 1480.83 835.13 1481.67 835.23 1482.5 835.33 1483.33 835.42 1484.17 835.52 1485 835.62 1485.83 835.71 1486.67 835.81 1487.5 835.9 1488.33 836 1489.17 836.1 1490 836.19 1490.83 836.29 1491.67 836.38 1492.5 836.48 1493.33 836.57 1494.17 836.67 1495 836.76 1495.83 836.86 1496.67 836.95 1497.5 837.04 1498.33 837.13 1499.17 837.23 1500 837.32 1500.83 837.4 1501.67 837.49 1502.5 837.58 1503.33 837.67 1504.17 837.75 1505 837.83 1505.83 837.92 1506.67 838 1507.5 838.08 1508.33 838.16 1509.17 838.23 1510 838.31 1510.83 838.39 1511.67 838.46 1512.5 838.54 1513.33 838.61 1514.17 838.69 1515 838.76 1515.83 838.83 1516.67 838.91 1517.5 838.98 1518.33 839.05 1519.17 839.12 1520 839.19 1520.83 839.26 1521.67 839.33 1522.5 839.4 1523.33 839.47 1524.17 839.54 1525 839.61 1525.83 839.68 1526.67 839.75 1527.5 839.82 1528.33 839.89 1529.17 839.95 1530 840.02 1530.83 840.09 1531.67 840.15 1532.5 840.22 1533.33 840.28 1534.17 840.35 1535 840.41 1535.83 840.48 1536.67 840.54 1537.5 840.6 1538.33 840.67 1539.17 840.73 1540 840.79 1540.83 840.85 1541.67 840.91 1542.5 840.97 1543.33 841.03 1544.17 841.09 1545 841.15 1545.83 841.21 1546.67 841.27 1547.5 841.33 1548.33 841.39 1549.17 841.44 1550 841.5 1550.83 841.56 1551.67 841.61 1552.5 841.67 1553.33 841.72 1554.17 841.78 1555 841.83 1555.83 841.89 1556.67 841.94 1557.5 841.99 1558.33 842.05 1559.17 842.1 1560 842.15 1560.83 842.2 1561.67 842.25 1562.5 842.3 1563.33 842.35 1564.17 842.4 1565 842.45 1565.83 842.5 1566.67 842.55 1567.5 842.6 1568.33 842.65 1569.17 842.69 1570 842.74 1570.83 842.79 1571.67 842.83 1572.5 842.88 1573.33 842.92 1574.17 842.97 1575 843.01 1575.83 843.06 1576.67 843.1 1577.5 843.14 1578.33 843.19 1579.17 843.23 1580 843.27 1580.83 843.31 1581.67 843.35 1582.5 843.39 1583.33 843.44 1584.17 843.47 1585 843.51 1585.83 843.55 1586.67 843.59 1587.5 843.63 1588.33 843.67 1589.17 843.7 1590 843.74 1590.83 843.77 1591.67 843.81 1592.5 843.84 1593.33 843.88 1594.17 843.91 1595 843.94 1595.83 843.98 1596.67 844.01 1597.5 844.04 1598.33 844.07 1599.17 844.11 1600 844.14 1600.83 844.17 1601.67 844.2 1602.5 844.23 1603.33 844.27 1604.17 844.3 1605 844.33 1605.83 844.37 1606.67 844.4 1607.5 844.43 1608.33 844.47 1609.17 844.5 1610 844.53 1610.83 844.57 1611.67 844.6 1612.5 844.63 1613.33 844.67" stroke="#1f77b4" stroke-width="2.08" fill="none" stroke-linejoin="round" stroke-linecap="butt"/>
</g>
<rect x="225.5" y="589.5" width="1395" height="267" fill="none" stroke="#000" stroke-width="1.1"/>
<path d="M231.5 856v5.4M508.5 856v5.4M784.5 856v5.4M1060.5 856v5.4M1337.5 856v5.4M1613.5 856v5.4M225.5 854.5h-5.5M225.5 761.5h-5.5M225.5 667.5h-5.5" stroke="#000" stroke-width="1.1" fill="none"/>
<g font-family='"DejaVu Sans", "Liberation Sans", sans-serif' font-size="33.33" fill="#000">
<text x="231.53" y="891" text-anchor="middle">0</text>
<text x="507.43" y="891" text-anchor="middle">1000</text>
<text x="783.66" y="891" text-anchor="middle">2000</text>
<text x="1059.7" y="891" text-anchor="middle">3000</text>
<text x="1336.53" y="891" text-anchor="middle">4000</text>
<text x="1612.79" y="891" text-anchor="middle">5000</text>
<text x="214.74" y="867" text-anchor="end">0.00</text>
<text x="215.01" y="774" text-anchor="end">0.25</text>
<text x="214.7" y="680" text-anchor="end">0.50</text>
</g>
<text x="921.94" y="930" text-anchor="middle" font-family='"DejaVu Sans", "Liberation Sans", sans-serif' font-size="33.33" fill="#000">Rotational Period (Hours)</text>
<text x="126.69" y="723.56" text-anchor="middle" font-family='"DejaVu Sans", "Liberation Sans", sans-serif' font-size="33.33" fill="#000" transform="rotate(-90 126.69 723.56)">L-S Power</text>
<text x="921.5" y="616" text-anchor="start" font-family='"DejaVu Sans", "Liberation Sans", sans-serif' font-size="33.33" fill="#000">Period: 12.016 h</text>
<g clip-path="url(#c2)">
<path d="M236 1117V1152M279 1125V1154M297 1118V1149M312 1130V1161M317 1136V1161M358 1126V1173M370 1142V1177M381 1138V1169M381 1138V1183M478 1127V1159M505 1124V1155M530 1111V1172M610 1053V1096M619 1060V1105M637 1038V1094M658 1052V1087M735 986V1085M749 1025V1067M750 1031V1075M790 1035V1081M914 1093V1142M927 1106V1147M930 1092V1157M944 1060V1123M944 1118V1181M955 1105V1165M953 1120V1170M962 1096V1133M968 1108V1164M978 1061V1170M987 1172V1228M1001 1136V1175M1012 1133V1186M1021 1110V1208M1019 1134V1176M1019 1119V1169M1023 1113V1163M1027 1142V1193M1034 1081V1140M1033 1117V1150M1041 1138V1201M1055 1102V1155M1062 1136V1181M1064 1092V1204M1064 1149V1189M1065 1147V1208M1092 1129V1214M1108 1143V1194M1125 1119V1182M1157 1142V1207M1199 1128V1187M1215 1097V1134M1262 1027V1066M1354 1039V1080M1383 1025V1063M1384 1041V1078M1394 1021V1058M1444 1023V1062" stroke="#117733" stroke-width="2.08" fill="none"/>
<path d="M246 1105V1128M265 1109V1132M282 1111V1138M321 1141V1169M331 1139V1162M336 1135V1157M382 1141V1161M427 1139V1163M443 1145V1168M468 1162V1193M475 1129V1156M475 1137V1162M544 1085V1126M609 1051V1094M713 964V1035M768 1044V1125M797 1048V1073M843 1065V1105M865 1084V1126M877 1082V1121M891 1058V1105M910 1094V1133M920 1099V1146M922 1104V1131M926 1100V1128M929 1078V1139M928 1129V1174M948 1119V1150M973 1117V1158M992 1151V1190M1023 1151V1190M1031 1137V1161M1031 1141V1172M1035 1143V1178M1042 1136V1174M1050 1148V1187M1067 1152V1173M1074 1155V1180M1081 1143V1166M1093 1140V1172M1103 1145V1174M1127 1172V1220M1135 1130V1157M1135 1161V1196M1151 1131V1177M1154 1141V1208M1164 1116V1163M1171 1140V1180M1217 1123V1178M1232 1124V1165M1316 1040V1073M1341 1037V1066M1343 1026V1052M1352 1026V1053M1372 1025V1059M1381 1023V1050M1439 1024V1061M1490 1036V1063M1500 1041V1067" stroke="#882255" stroke-width="2.08" fill="none"/>
<path d="M231.89 1113.46 237.64 1116.56 243.4 1119.62 249.15 1122.64 254.9 1125.61 260.66 1128.51 266.41 1131.35 272.16 1134.12 277.92 1136.8 283.67 1139.39 289.42 1141.88 295.17 1144.27 300.93 1146.55 306.68 1148.71 312.43 1150.75 318.19 1152.66 323.94 1154.44 329.69 1156.08 335.45 1157.57 341.2 1158.92 346.95 1160.11 352.71 1161.15 358.46 1162.04 364.21 1162.76 369.97 1163.33 375.72 1163.73 381.47 1163.96 387.23 1164.03 392.98 1163.94 398.73 1163.68 404.48 1163.26 410.24 1162.67 415.99 1161.93 421.74 1161.02 427.5 1159.96 433.25 1158.74 439 1157.38 444.76 1155.86 450.51 1154.21 456.26 1152.41 462.02 1150.48 467.77 1148.43 473.52 1146.25 479.28 1143.96 485.03 1141.55 490.78 1139.04 496.54 1136.44 502.29 1133.75 508.04 1130.97 513.79 1128.12 519.55 1125.21 525.3 1122.23 531.05 1119.2 536.81 1116.14 542.56 1113.04 548.31 1109.91 554.07 1106.77 559.82 1103.62 565.57 1100.46 571.33 1097.32 577.08 1094.2 582.83 1091.1 588.59 1088.04 594.34 1085.02 600.09 1082.05 605.85 1079.15 611.6 1076.31 617.35 1073.54 623.1 1070.86 628.86 1068.27 634.61 1065.78 640.36 1063.39 646.12 1061.11 651.87 1058.95 657.62 1056.91 663.38 1055 669.13 1053.22 674.88 1051.58 680.64 1050.09 686.39 1048.74 692.14 1047.55 697.9 1046.51 703.65 1045.62 709.4 1044.9 715.16 1044.33 720.91 1043.93 726.66 1043.7 732.41 1043.63 738.17 1043.72 743.92 1043.98 749.67 1044.4 755.43 1044.99 761.18 1045.73 766.93 1046.64 772.69 1047.7 778.44 1048.92 784.19 1050.28 789.95 1051.8 795.7 1053.45 801.45 1055.25 807.21 1057.18 812.96 1059.23 818.71 1061.41 824.47 1063.7 830.22 1066.11 835.97 1068.62 841.73 1071.22 847.48 1073.91 853.23 1076.69 858.98 1079.54 864.74 1082.45 870.49 1085.43 876.24 1088.46 882 1091.52 887.75 1094.62 893.5 1097.75 899.26 1100.89 905.01 1104.04 910.76 1107.2 916.52 1110.34 922.27 1113.46 928.02 1116.56 933.78 1119.62 939.53 1122.64 945.28 1125.61 951.04 1128.51 956.79 1131.35 962.54 1134.12 968.29 1136.8 974.05 1139.39 979.8 1141.88 985.55 1144.27 991.31 1146.55 997.06 1148.71 1002.81 1150.75 1008.57 1152.66 1014.32 1154.44 1020.07 1156.08 1025.83 1157.57 1031.58 1158.92 1037.33 1160.11 1043.09 1161.15 1048.84 1162.04 1054.59 1162.76 1060.35 1163.33 1066.1 1163.73 1071.85 1163.96 1077.6 1164.03 1083.36 1163.94 1089.11 1163.68 1094.86 1163.26 1100.62 1162.67 1106.37 1161.93 1112.12 1161.02 1117.88 1159.96 1123.63 1158.74 1129.38 1157.38 1135.14 1155.86 1140.89 1154.21 1146.64 1152.41 1152.4 1150.48 1158.15 1148.43 1163.9 1146.25 1169.66 1143.96 1175.41 1141.55 1181.16 1139.04 1186.91 1136.44 1192.67 1133.75 1198.42 1130.97 1204.17 1128.12 1209.93 1125.21 1215.68 1122.23 1221.43 1119.2 1227.19 1116.14 1232.94 1113.04 1238.69 1109.91 1244.45 1106.77 1250.2 1103.62 1255.95 1100.46 1261.71 1097.32 1267.46 1094.2 1273.21 1091.1 1278.97 1088.04 1284.72 1085.02 1290.47 1082.05 1296.22 1079.15 1301.98 1076.31 1307.73 1073.54 1313.48 1070.86 1319.24 1068.27 1324.99 1065.78 1330.74 1063.39 1336.5 1061.11 1342.25 1058.95 1348 1056.91 1353.76 1055 1359.51 1053.22 1365.26 1051.58 1371.02 1050.09 1376.77 1048.74 1382.52 1047.55 1388.28 1046.51 1394.03 1045.62 1399.78 1044.9 1405.53 1044.33 1411.29 1043.93 1417.04 1043.7 1422.79 1043.63 1428.55 1043.72 1434.3 1043.98 1440.05 1044.4 1445.81 1044.99 1451.56 1045.73 1457.31 1046.64 1463.07 1047.7 1468.82 1048.92 1474.57 1050.28 1480.33 1051.8 1486.08 1053.45 1491.83 1055.25 1497.59 1057.18 1503.34 1059.23 1509.09 1061.41 1514.84 1063.7 1520.6 1066.11 1526.35 1068.62 1532.1 1071.22 1537.86 1073.91 1543.61 1076.69 1549.36 1079.54 1555.12 1082.45 1560.87 1085.43 1566.62 1088.46 1572.38 1091.52 1578.13 1094.62 1583.88 1097.75 1589.64 1100.89 1595.39 1104.04 1601.14 1107.2 1606.9 1110.34 1612.65 1113.46" stroke="#1f77b4" stroke-width="2.08" fill="none" stroke-linejoin="round" stroke-linecap="butt"/>
<g fill="#117733">
<circle cx="236.5" cy="1134.5" r="4.17"/>
<circle cx="279.5" cy="1139.5" r="4.17"/>
<circle cx="297.5" cy="1133.5" r="4.17"/>
<circle cx="312.5" cy="1145.5" r="4.17"/>
<circle cx="317.5" cy="1148.5" r="4.17"/>
<circle cx="358.5" cy="1149.5" r="4.17"/>
<circle cx="370.5" cy="1159.5" r="4.17"/>
<circle cx="380.5" cy="1153.5" r="4.17"/>
<circle cx="381.5" cy="1160.5" r="4.17"/>
<circle cx="477.5" cy="1143.5" r="4.17"/>
<circle cx="505.5" cy="1139.5" r="4.17"/>
<circle cx="530.5" cy="1141.5" r="4.17"/>
<circle cx="610.5" cy="1074.5" r="4.17"/>
<circle cx="619.5" cy="1082.5" r="4.17"/>
<circle cx="637.5" cy="1066.5" r="4.17"/>
<circle cx="658.5" cy="1069.5" r="4.17"/>
<circle cx="735.5" cy="1035.5" r="4.17"/>
<circle cx="749.5" cy="1046.5" r="4.17"/>
<circle cx="750.5" cy="1053.5" r="4.17"/>
<circle cx="790.5" cy="1058.5" r="4.17"/>
<circle cx="914.5" cy="1117.5" r="4.17"/>
<circle cx="926.5" cy="1126.5" r="4.17"/>
<circle cx="930.5" cy="1124.5" r="4.17"/>
<circle cx="944.5" cy="1091.5" r="4.17"/>
<circle cx="944.5" cy="1149.5" r="4.17"/>
<circle cx="954.5" cy="1135.5" r="4.17"/>
<circle cx="953.5" cy="1145.5" r="4.17"/>
<circle cx="962.5" cy="1114.5" r="4.17"/>
<circle cx="967.5" cy="1136.5" r="4.17"/>
<circle cx="978.5" cy="1115.5" r="4.17"/>
<circle cx="987.5" cy="1200.5" r="4.17"/>
<circle cx="1001.5" cy="1155.5" r="4.17"/>
<circle cx="1012.5" cy="1159.5" r="4.17"/>
<circle cx="1021.5" cy="1158.5" r="4.17"/>
<circle cx="1018.5" cy="1155.5" r="4.17"/>
<circle cx="1019.5" cy="1144.5" r="4.17"/>
<circle cx="1023.5" cy="1138.5" r="4.17"/>
<circle cx="1027.5" cy="1167.5" r="4.17"/>
<circle cx="1033.5" cy="1110.5" r="4.17"/>
<circle cx="1032.5" cy="1133.5" r="4.17"/>
<circle cx="1041.5" cy="1169.5" r="4.17"/>
<circle cx="1054.5" cy="1128.5" r="4.17"/>
<circle cx="1062.5" cy="1158.5" r="4.17"/>
<circle cx="1063.5" cy="1148.5" r="4.17"/>
<circle cx="1064.5" cy="1169.5" r="4.17"/>
<circle cx="1065.5" cy="1177.5" r="4.17"/>
<circle cx="1092.5" cy="1171.5" r="4.17"/>
<circle cx="1108.5" cy="1168.5" r="4.17"/>
<circle cx="1125.5" cy="1150.5" r="4.17"/>
<circle cx="1156.5" cy="1174.5" r="4.17"/>
<circle cx="1199.5" cy="1157.5" r="4.17"/>
<circle cx="1215.5" cy="1115.5" r="4.17"/>
<circle cx="1262.5" cy="1046.5" r="4.17"/>
<circle cx="1354.5" cy="1059.5" r="4.17"/>
<circle cx="1383.5" cy="1044.5" r="4.17"/>
<circle cx="1384.5" cy="1059.5" r="4.17"/>
<circle cx="1394.5" cy="1039.5" r="4.17"/>
<circle cx="1443.5" cy="1042.5" r="4.17"/>
</g>
<g fill="#882255">
<circle cx="246.5" cy="1116.5" r="4.17"/>
<circle cx="265.5" cy="1120.5" r="4.17"/>
<circle cx="282.5" cy="1124.5" r="4.17"/>
<circle cx="321.5" cy="1155.5" r="4.17"/>
<circle cx="331.5" cy="1150.5" r="4.17"/>
<circle cx="336.5" cy="1146.5" r="4.17"/>
<circle cx="382.5" cy="1151.5" r="4.17"/>
<circle cx="427.5" cy="1151.5" r="4.17"/>
<circle cx="443.5" cy="1156.5" r="4.17"/>
<circle cx="468.5" cy="1177.5" r="4.17"/>
<circle cx="475.5" cy="1142.5" r="4.17"/>
<circle cx="475.5" cy="1149.5" r="4.17"/>
<circle cx="543.5" cy="1105.5" r="4.17"/>
<circle cx="609.5" cy="1072.5" r="4.17"/>
<circle cx="713.5" cy="999.5" r="4.17"/>
<circle cx="768.5" cy="1084.5" r="4.17"/>
<circle cx="797.5" cy="1060.5" r="4.17"/>
<circle cx="843.5" cy="1085.5" r="4.17"/>
<circle cx="865.5" cy="1105.5" r="4.17"/>
<circle cx="877.5" cy="1101.5" r="4.17"/>
<circle cx="891.5" cy="1081.5" r="4.17"/>
<circle cx="910.5" cy="1113.5" r="4.17"/>
<circle cx="920.5" cy="1122.5" r="4.17"/>
<circle cx="922.5" cy="1117.5" r="4.17"/>
<circle cx="925.5" cy="1114.5" r="4.17"/>
<circle cx="929.5" cy="1108.5" r="4.17"/>
<circle cx="927.5" cy="1151.5" r="4.17"/>
<circle cx="948.5" cy="1134.5" r="4.17"/>
<circle cx="973.5" cy="1137.5" r="4.17"/>
<circle cx="992.5" cy="1170.5" r="4.17"/>
<circle cx="1023.5" cy="1170.5" r="4.17"/>
<circle cx="1031.5" cy="1149.5" r="4.17"/>
<circle cx="1031.5" cy="1156.5" r="4.17"/>
<circle cx="1035.5" cy="1160.5" r="4.17"/>
<circle cx="1042.5" cy="1155.5" r="4.17"/>
<circle cx="1049.5" cy="1167.5" r="4.17"/>
<circle cx="1066.5" cy="1162.5" r="4.17"/>
<circle cx="1074.5" cy="1167.5" r="4.17"/>
<circle cx="1080.5" cy="1154.5" r="4.17"/>
<circle cx="1093.5" cy="1156.5" r="4.17"/>
<circle cx="1102.5" cy="1159.5" r="4.17"/>
<circle cx="1127.5" cy="1195.5" r="4.17"/>
<circle cx="1135.5" cy="1143.5" r="4.17"/>
<circle cx="1135.5" cy="1178.5" r="4.17"/>
<circle cx="1151.5" cy="1154.5" r="4.17"/>
<circle cx="1154.5" cy="1174.5" r="4.17"/>
<circle cx="1164.5" cy="1139.5" r="4.17"/>
<circle cx="1171.5" cy="1160.5" r="4.17"/>
<circle cx="1217.5" cy="1150.5" r="4.17"/>
<circle cx="1232.5" cy="1144.5" r="4.17"/>
<circle cx="1316.5" cy="1056.5" r="4.17"/>
<circle cx="1340.5" cy="1051.5" r="4.17"/>
<circle cx="1343.5" cy="1039.5" r="4.17"/>
<circle cx="1352.5" cy="1039.5" r="4.17"/>
<circle cx="1372.5" cy="1041.5" r="4.17"/>
<circle cx="1381.5" cy="1036.5" r="4.17"/>
<circle cx="1439.5" cy="1042.5" r="4.17"/>
<circle cx="1490.5" cy="1049.5" r="4.17"/>
<circle cx="1500.5" cy="1053.5" r="4.17"/>
</g>
</g>
<rect x="225.5" y="962.5" width="1395" height="267" fill="none" stroke="#000" stroke-width="1.1"/>
<path d="M232.5 1229v5.4M462.5 1229v5.4M692.5 1229v5.4M922.5 1229v5.4M1151.5 1229v5.4M1381.5 1229v5.4M1611.5 1229v5.4M225.5 1133.5h-5.5M225.5 1001.5h-5.5" stroke="#000" stroke-width="1.1" fill="none"/>
<g font-family='"DejaVu Sans", "Liberation Sans", sans-serif' font-size="33.33" fill="#000">
<text x="232.59" y="1265" text-anchor="middle">0</text>
<text x="462.59" y="1265" text-anchor="middle">2</text>
<text x="692.6" y="1265" text-anchor="middle">4</text>
<text x="921.62" y="1265" text-anchor="middle">6</text>
<text x="1151.59" y="1265" text-anchor="middle">8</text>
<text x="1381.5" y="1265" text-anchor="middle">10</text>
<text x="1611.68" y="1265" text-anchor="middle">12</text>
<text x="214.47" y="1146" text-anchor="end">13.5</text>
<text x="214.22" y="1014" text-anchor="end">14.0</text>
</g>
<text x="922.99" y="1303" text-anchor="middle" font-family='"DejaVu Sans", "Liberation Sans", sans-serif' font-size="33.33" fill="#000">Phase (hours)</text>
<text x="126.75" y="1096.43" text-anchor="middle" font-family='"DejaVu Sans", "Liberation Sans", sans-serif' font-size="33.33" fill="#000" transform="rotate(-90 126.75 1096.43)">H (mag)</text>
<g clip-path="url(#c3)">
<path d="M957 1457V1558M964 1461V1558M976 1411V1549M1013 1440V1538M1020 1420V1533M1027 1436V1518M1039 1429V1532M1047 1438V1527M1047 1437V1550M1064 1402V1505M1071 1512V1601M1088 1398V1477M1095 1434V1519M1107 1441V1520M1123 1417V1485M1123 1439V1503M1136 1392V1507M1146 1342V1436M1153 1445V1518M1165 1441V1515M1182 1437V1505M1204 1453V1550M1211 1429V1497M1218 1407V1485M1218 1423V1498M1226 1424V1515M1226 1464V1512M1236 1445V1518M1247 1431V1487M1251 1429V1490M1245 1453V1502M1258 1468V1527M1249 1451V1491M1276 1442V1507M1279 1457V1517M1281 1431V1493M1286 1424V1474M1286 1441V1490M1298 1428V1494M1298 1434V1495M1301 1438V1483M1301 1446V1486M1351 1424V1485M1383 1351V1418M1390 1422V1473M1396 1368V1455M1398 1399V1451M1398 1413V1461M1395 1423V1496M1398 1446V1506M1398 1447V1524M1400 1456V1557M1407 1453V1534M1424 1422V1513M1423 1444V1507M1434 1361V1524M1458 1421V1505M1480 1339V1513M1497 1425V1530M1504 1363V1464M1521 1373V1532" stroke="#117733" stroke-width="2.08" fill="none"/>
<path d="M232 1490V1539M377 1452V1561M957 1468V1559M972 1483V1550M984 1488V1565M1013 1461V1525M1020 1418V1495M1039 1473V1532M1047 1436V1509M1064 1477V1536M1071 1444V1507M1088 1438V1493M1095 1430V1480M1107 1440V1496M1115 1428V1487M1123 1439V1484M1123 1454V1493M1136 1456V1519M1146 1446V1511M1153 1457V1520M1165 1455V1503M1182 1443V1485M1204 1424V1493M1211 1421V1487M1218 1447V1485M1235 1445V1494M1245 1422V1465M1243 1434V1471M1248 1442V1483M1252 1453V1493M1255 1457V1500M1260 1430V1463M1260 1439V1474M1279 1431V1465M1280 1433V1469M1281 1440V1480M1299 1440V1478M1301 1414V1460M1301 1435V1492M1306 1418V1463M1306 1429V1476M1351 1419V1472M1352 1439V1480M1383 1433V1471M1391 1426V1469M1391 1434V1470M1393 1431V1498M1407 1439V1488M1434 1446V1521M1458 1453V1498M1475 1405V1504M1475 1486V1561M1497 1468V1539M1504 1455V1522M1521 1406V1480M1550 1337V1450M1613 1462V1594" stroke="#882255" stroke-width="2.08" fill="none"/>
<path d="M225 1467.9 1620 1467.9" stroke="#000" stroke-width="2.08" fill="none" stroke-linejoin="round" stroke-linecap="butt" stroke-dasharray="7.71 3.33"/>
<g fill="#117733">
<circle cx="957.5" cy="1507.5" r="4.17"/>
<circle cx="964.5" cy="1509.5" r="4.17"/>
<circle cx="976.5" cy="1480.5" r="4.17"/>
<circle cx="1013.5" cy="1489.5" r="4.17"/>
<circle cx="1020.5" cy="1476.5" r="4.17"/>
<circle cx="1027.5" cy="1477.5" r="4.17"/>
<circle cx="1039.5" cy="1480.5" r="4.17"/>
<circle cx="1047.5" cy="1482.5" r="4.17"/>
<circle cx="1047.5" cy="1493.5" r="4.17"/>
<circle cx="1064.5" cy="1453.5" r="4.17"/>
<circle cx="1071.5" cy="1556.5" r="4.17"/>
<circle cx="1088.5" cy="1437.5" r="4.17"/>
<circle cx="1095.5" cy="1476.5" r="4.17"/>
<circle cx="1107.5" cy="1480.5" r="4.17"/>
<circle cx="1122.5" cy="1451.5" r="4.17"/>
<circle cx="1122.5" cy="1471.5" r="4.17"/>
<circle cx="1136.5" cy="1449.5" r="4.17"/>
<circle cx="1146.5" cy="1388.5" r="4.17"/>
<circle cx="1153.5" cy="1481.5" r="4.17"/>
<circle cx="1165.5" cy="1477.5" r="4.17"/>
<circle cx="1182.5" cy="1470.5" r="4.17"/>
<circle cx="1204.5" cy="1501.5" r="4.17"/>
<circle cx="1211.5" cy="1463.5" r="4.17"/>
<circle cx="1218.5" cy="1446.5" r="4.17"/>
<circle cx="1218.5" cy="1460.5" r="4.17"/>
<circle cx="1226.5" cy="1469.5" r="4.17"/>
<circle cx="1226.5" cy="1487.5" r="4.17"/>
<circle cx="1236.5" cy="1481.5" r="4.17"/>
<circle cx="1247.5" cy="1459.5" r="4.17"/>
<circle cx="1250.5" cy="1459.5" r="4.17"/>
<circle cx="1245.5" cy="1477.5" r="4.17"/>
<circle cx="1257.5" cy="1497.5" r="4.17"/>
<circle cx="1248.5" cy="1470.5" r="4.17"/>
<circle cx="1276.5" cy="1474.5" r="4.17"/>
<circle cx="1279.5" cy="1486.5" r="4.17"/>
<circle cx="1281.5" cy="1462.5" r="4.17"/>
<circle cx="1286.5" cy="1449.5" r="4.17"/>
<circle cx="1286.5" cy="1465.5" r="4.17"/>
<circle cx="1297.5" cy="1461.5" r="4.17"/>
<circle cx="1297.5" cy="1464.5" r="4.17"/>
<circle cx="1301.5" cy="1460.5" r="4.17"/>
<circle cx="1301.5" cy="1466.5" r="4.17"/>
<circle cx="1351.5" cy="1454.5" r="4.17"/>
<circle cx="1383.5" cy="1384.5" r="4.17"/>
<circle cx="1390.5" cy="1447.5" r="4.17"/>
<circle cx="1395.5" cy="1411.5" r="4.17"/>
<circle cx="1397.5" cy="1425.5" r="4.17"/>
<circle cx="1397.5" cy="1436.5" r="4.17"/>
<circle cx="1395.5" cy="1459.5" r="4.17"/>
<circle cx="1397.5" cy="1476.5" r="4.17"/>
<circle cx="1397.5" cy="1485.5" r="4.17"/>
<circle cx="1400.5" cy="1506.5" r="4.17"/>
<circle cx="1407.5" cy="1493.5" r="4.17"/>
<circle cx="1424.5" cy="1467.5" r="4.17"/>
<circle cx="1422.5" cy="1475.5" r="4.17"/>
<circle cx="1434.5" cy="1442.5" r="4.17"/>
<circle cx="1458.5" cy="1463.5" r="4.17"/>
<circle cx="1479.5" cy="1426.5" r="4.17"/>
<circle cx="1497.5" cy="1477.5" r="4.17"/>
<circle cx="1504.5" cy="1413.5" r="4.17"/>
<circle cx="1521.5" cy="1452.5" r="4.17"/>
</g>
<g fill="#882255">
<circle cx="232.5" cy="1514.5" r="4.17"/>
<circle cx="377.5" cy="1506.5" r="4.17"/>
<circle cx="957.5" cy="1513.5" r="4.17"/>
<circle cx="972.5" cy="1516.5" r="4.17"/>
<circle cx="984.5" cy="1526.5" r="4.17"/>
<circle cx="1013.5" cy="1493.5" r="4.17"/>
<circle cx="1020.5" cy="1456.5" r="4.17"/>
<circle cx="1039.5" cy="1502.5" r="4.17"/>
<circle cx="1047.5" cy="1472.5" r="4.17"/>
<circle cx="1064.5" cy="1506.5" r="4.17"/>
<circle cx="1071.5" cy="1475.5" r="4.17"/>
<circle cx="1088.5" cy="1465.5" r="4.17"/>
<circle cx="1095.5" cy="1455.5" r="4.17"/>
<circle cx="1107.5" cy="1468.5" r="4.17"/>
<circle cx="1115.5" cy="1457.5" r="4.17"/>
<circle cx="1122.5" cy="1461.5" r="4.17"/>
<circle cx="1122.5" cy="1473.5" r="4.17"/>
<circle cx="1136.5" cy="1487.5" r="4.17"/>
<circle cx="1146.5" cy="1478.5" r="4.17"/>
<circle cx="1153.5" cy="1488.5" r="4.17"/>
<circle cx="1165.5" cy="1478.5" r="4.17"/>
<circle cx="1182.5" cy="1464.5" r="4.17"/>
<circle cx="1204.5" cy="1458.5" r="4.17"/>
<circle cx="1211.5" cy="1454.5" r="4.17"/>
<circle cx="1218.5" cy="1466.5" r="4.17"/>
<circle cx="1235.5" cy="1469.5" r="4.17"/>
<circle cx="1245.5" cy="1443.5" r="4.17"/>
<circle cx="1242.5" cy="1452.5" r="4.17"/>
<circle cx="1248.5" cy="1462.5" r="4.17"/>
<circle cx="1252.5" cy="1473.5" r="4.17"/>
<circle cx="1255.5" cy="1478.5" r="4.17"/>
<circle cx="1260.5" cy="1446.5" r="4.17"/>
<circle cx="1260.5" cy="1456.5" r="4.17"/>
<circle cx="1279.5" cy="1448.5" r="4.17"/>
<circle cx="1279.5" cy="1451.5" r="4.17"/>
<circle cx="1281.5" cy="1460.5" r="4.17"/>
<circle cx="1298.5" cy="1459.5" r="4.17"/>
<circle cx="1301.5" cy="1437.5" r="4.17"/>
<circle cx="1301.5" cy="1463.5" r="4.17"/>
<circle cx="1305.5" cy="1440.5" r="4.17"/>
<circle cx="1305.5" cy="1452.5" r="4.17"/>
<circle cx="1351.5" cy="1445.5" r="4.17"/>
<circle cx="1351.5" cy="1459.5" r="4.17"/>
<circle cx="1383.5" cy="1451.5" r="4.17"/>
<circle cx="1390.5" cy="1447.5" r="4.17"/>
<circle cx="1391.5" cy="1451.5" r="4.17"/>
<circle cx="1392.5" cy="1464.5" r="4.17"/>
<circle cx="1407.5" cy="1463.5" r="4.17"/>
<circle cx="1434.5" cy="1483.5" r="4.17"/>
<circle cx="1458.5" cy="1475.5" r="4.17"/>
<circle cx="1475.5" cy="1454.5" r="4.17"/>
<circle cx="1475.5" cy="1523.5" r="4.17"/>
<circle cx="1497.5" cy="1503.5" r="4.17"/>
<circle cx="1504.5" cy="1488.5" r="4.17"/>
<circle cx="1521.5" cy="1443.5" r="4.17"/>
<circle cx="1550.5" cy="1393.5" r="4.17"/>
<circle cx="1613.5" cy="1527.5" r="4.17"/>
</g>
</g>
<rect x="225.5" y="1335.5" width="1395" height="267" fill="none" stroke="#000" stroke-width="1.1"/>
<path d="M300.5 1602v5.4M543.5 1602v5.4M785.5 1602v5.4M1028.5 1602v5.4M1270.5 1602v5.4M1513.5 1602v5.4M225.5 1574.5h-5.5M225.5 1468.5h-5.5M225.5 1361.5h-5.5" stroke="#000" stroke-width="1.1" fill="none"/>
<g font-family='"DejaVu Sans", "Liberation Sans", sans-serif' font-size="33.33" fill="#000">
<text x="300.02" y="1638" text-anchor="middle">400</text>
<text x="543.21" y="1638" text-anchor="middle">500</text>
<text x="785.21" y="1638" text-anchor="middle">600</text>
<text x="1028.09" y="1638" text-anchor="middle">700</text>
<text x="1269.99" y="1638" text-anchor="middle">800</text>
<text x="1512.13" y="1638" text-anchor="middle">900</text>
<text x="214.74" y="1587" text-anchor="end">−0.25</text>
<text x="214.74" y="1481" text-anchor="end">0.00</text>
<text x="215.01" y="1374" text-anchor="end">0.25</text>
</g>
<text x="921.99" y="1676" text-anchor="middle" font-family='"DejaVu Sans", "Liberation Sans", sans-serif' font-size="33.33" fill="#000">Julian Date</text>
<text x="1618.82" y="1675" text-anchor="end" font-family='"DejaVu Sans", "Liberation Sans", sans-serif' font-size="33.33" fill="#000">+2.4580000000e6</text>
<text x="101.62" y="1473.36" text-anchor="middle" font-family='"DejaVu Sans", "Liberation Sans", sans-serif' font-size="33.33" fill="#000" transform="rotate(-90 101.62 1473.36)">Residuals</text>
</svg>
</body></html>
